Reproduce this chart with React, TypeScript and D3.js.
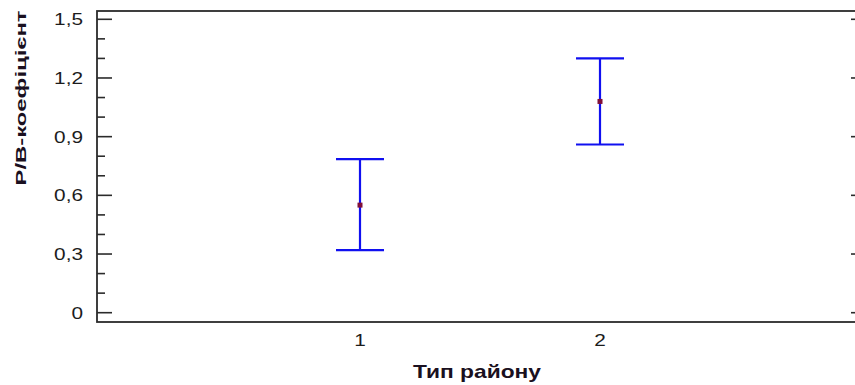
import React, {useEffect, useRef} from 'react';
import * as d3 from "d3";

// типи районів та інтервали для P/B
const groups = [1, 2];
const means = [0.55, 1.08];
const lower = [0.32, 0.86];
const upper = [0.785, 1.30];
const yTicks = [0, 0.3, 0.6, 0.9, 1.2, 1.5];
const yMinor = [0.1, 0.2, 0.4, 0.5, 0.7, 0.8, 1.0, 1.1, 1.3, 1.4];
const xTitle = "Тип району";
const yTitle = "P/B-коефіцієнт";

const W = 855, H = 385;

const App = () => {
    const svgRef = useRef(null);

    useEffect(() => {
        const svg = d3.select(svgRef.current);
        svg.selectAll("*").remove();

        const frame = {left: 97, right: 866, top: 11, bottom: 322};

        const y = d3.scaleLinear().domain([0, 1.5]).range([312.7, 19.3]);
        const x = d3.scaleLinear().domain([1, 2]).range([360, 600]);

        const fmt = (d) => d === 0 ? "0" : d3.format(".1f")(d).replace(".", ",");

        // рамка
        svg.append("rect")
            .attr("x", frame.left).attr("y", frame.top)
            .attr("width", frame.right - frame.left)
            .attr("height", frame.bottom - frame.top)
            .attr("fill", "none")
            .attr("stroke", "#2b2b2b")
            .attr("stroke-width", 1.8);

        // великі поділки зліва і справа
        yTicks.forEach(t => {
            svg.append("line")
                .attr("x1", frame.left).attr("x2", frame.left + 15)
                .attr("y1", y(t)).attr("y2", y(t))
                .attr("stroke", "#2b2b2b").attr("stroke-width", 1.6);
            svg.append("line")
                .attr("x1", frame.right - 15).attr("x2", frame.right)
                .attr("y1", y(t)).attr("y2", y(t))
                .attr("stroke", "#2b2b2b").attr("stroke-width", 1.6);
            svg.append("text")
                .attr("transform", `translate(83, ${y(t) + 6}) scale(1.3, 1)`)
                .attr("text-anchor", "end")
                .attr("font-family", "Liberation Sans, Arial, sans-serif")
                .attr("font-size", 16)
                .attr("fill", "#1c1c1c")
                .text(fmt(t));
        });

        // малі поділки
        yMinor.forEach(t => {
            svg.append("line")
                .attr("x1", frame.left).attr("x2", frame.left + 8)
                .attr("y1", y(t)).attr("y2", y(t))
                .attr("stroke", "#2b2b2b").attr("stroke-width", 1.6);
        });

        // підписи категорій
        groups.forEach(g => {
            svg.append("text")
                .attr("transform", `translate(${x(g)}, 346) scale(1.3, 1)`)
                .attr("text-anchor", "middle")
                .attr("font-family", "Liberation Sans, Arial, sans-serif")
                .attr("font-size", 16)
                .attr("fill", "#1c1c1c")
                .text(g);
        });

        // інтервали
        const bars = svg.append("g").attr("stroke", "#1010f0").attr("stroke-width", 2.2);
        groups.forEach((g, i) => {
            const cx = x(g);
            bars.append("line")
                .attr("x1", cx).attr("x2", cx)
                .attr("y1", y(upper[i])).attr("y2", y(lower[i]));
            bars.append("line")
                .attr("x1", cx - 24).attr("x2", cx + 24)
                .attr("y1", y(upper[i])).attr("y2", y(upper[i]));
            bars.append("line")
                .attr("x1", cx - 24).attr("x2", cx + 24)
                .attr("y1", y(lower[i])).attr("y2", y(lower[i]));
        });

        // середні
        svg.selectAll("rect.mean")
            .data(means)
            .enter()
            .append("rect")
            .attr("class", "mean")
            .attr("x", (d, i) => x(groups[i]) - 2.5)
            .attr("y", d => y(d) - 2.5)
            .attr("width", 5)
            .attr("height", 5)
            .attr("fill", "#80103a");

        // назви осей
        svg.append("text")
            .attr("x", 477).attr("y", 378)
            .attr("text-anchor", "middle")
            .attr("font-family", "Liberation Sans, Arial, sans-serif")
            .attr("font-weight", "bold")
            .attr("font-size", 19)
            .attr("textLength", 128)
            .attr("lengthAdjust", "spacingAndGlyphs")
            .attr("fill", "#1a1020")
            .text(xTitle);

        svg.append("text")
            .attr("transform", "translate(26, 98) rotate(-90)")
            .attr("text-anchor", "middle")
            .attr("font-family", "Liberation Sans, Arial, sans-serif")
            .attr("font-weight", "bold")
            .attr("font-size", 15)
            .attr("textLength", 175)
            .attr("lengthAdjust", "spacingAndGlyphs")
            .attr("fill", "#1a1020")
            .text(yTitle);
    }, []);

    return <svg ref={svgRef} width={W} height={H}
                style={{position: "absolute", left: 0, top: 0, background: "#fff"}}/>;
};

export default App;
